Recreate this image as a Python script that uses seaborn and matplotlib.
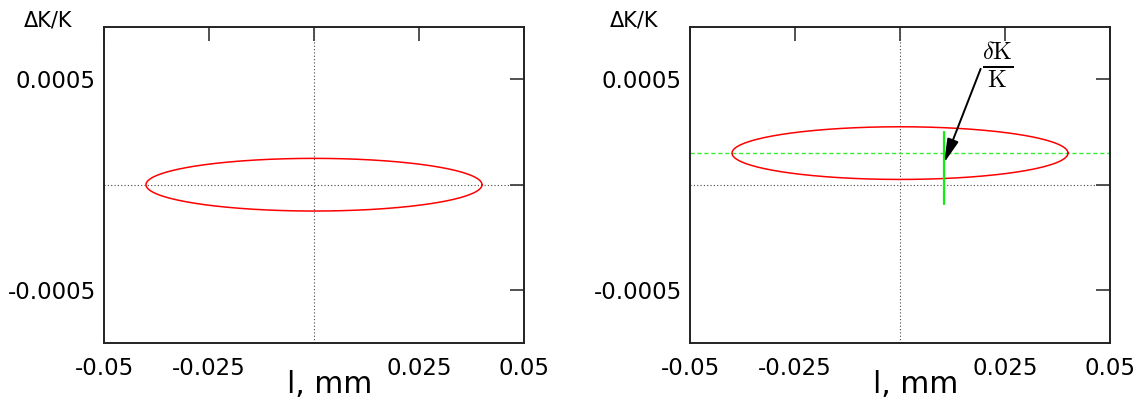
import numpy as np
import pandas as pd
import matplotlib
matplotlib.use("Agg")
import matplotlib.pyplot as plt
import seaborn as sns

# tick positions and labels (zero is left unlabelled)
x_ticks = [-0.05, -0.025, 0.0, 0.025, 0.05]
x_tick_labels = ["-0.05", "-0.025", "", "0.025", "0.05"]
y_ticks = [-0.0005, 0.0, 0.0005]
y_tick_labels = ["-0.0005", "", "0.0005"]

# ellipses: centre l, centre dK/K, half width, half height
left_ellipse = [0.0, 0.0, 0.04, 0.000125]
right_ellipse = [0.0, 0.00015, 0.04, 0.000125]

# extras on the right panel
mean_level = 0.00015
spread_l = [0.0105, 0.0105]
spread_dk = [-0.00009, 0.00025]
arrow_tail = [0.0192, 0.00055]
arrow_head = [0.0105, 0.000104]
label_xy = [0.0233, 0.00057]


def ellipse_frame(params):
    x0, y0, a, b = params
    t = np.linspace(0, 2 * np.pi, 500)
    return pd.DataFrame({"l": x0 + a * np.cos(t), "dk": y0 + b * np.sin(t)})


def style_axes(ax):
    ax.set_xlim(-0.05, 0.05)
    ax.set_ylim(-0.00075, 0.00075)
    ax.set_xticks(x_ticks)
    ax.set_xticklabels(x_tick_labels)
    ax.set_yticks(y_ticks)
    ax.set_yticklabels(y_tick_labels)
    ax.tick_params(direction="in", length=10, width=1.1, top=True, right=True,
                   labelsize=16.5, color="#222222", labelcolor="black", pad=6)
    ax.tick_params(axis="x", pad=10)
    for s in ax.spines.values():
        s.set_linewidth(1.4)
        s.set_color("#222222")
    ax.axhline(0, color="#444444", lw=0.8, ls=(0, (1, 2)), zorder=1)
    ax.axvline(0, color="#444444", lw=0.8, ls=(0, (1, 2)), zorder=1)
    ax.set_xlabel("")
    ax.set_ylabel("")


sns.set_theme(style="white")
plt.rcParams["font.family"] = ["DejaVu Sans"]
plt.rcParams["mathtext.fontset"] = "cm"

fig = plt.figure(figsize=(11.42, 4.03), dpi=100)
ax1 = fig.add_axes([104 / 1142, 60.3 / 403, 420 / 1142, 316 / 403])
ax2 = fig.add_axes([690 / 1142, 60.3 / 403, 420 / 1142, 316 / 403])

for ax, ell in [(ax1, left_ellipse), (ax2, right_ellipse)]:
    sns.lineplot(data=ellipse_frame(ell), x="l", y="dk", sort=False,
                 estimator=None, color="red", lw=1.1, ax=ax, zorder=3)
    style_axes(ax)

ax2.axhline(mean_level, color="#33ee33", lw=1.0, ls=(0, (3, 2)), zorder=2)
sns.lineplot(x=spread_l, y=spread_dk, estimator=None, sort=False,
             color="#11ee11", lw=1.6, ax=ax2, zorder=4)
ax2.annotate("", xy=arrow_head, xytext=arrow_tail,
             arrowprops=dict(arrowstyle="-|>,head_length=0.9,head_width=0.22",
                             color="black", lw=1.4, mutation_scale=16,
                             shrinkA=0, shrinkB=0))
ax2.text(label_xy[0], label_xy[1], r"$\frac{\delta\mathrm{K}}{\mathrm{K}}$",
         fontsize=25, ha="center", va="center", color="black")

for x0 in [48, 634]:
    fig.text(x0 / 1142, 1 - 26.7 / 403, "ΔK/K", fontsize=15, ha="center",
             va="baseline", color="black")
for x0 in [330, 916]:
    fig.text(x0 / 1142, 1 - 393 / 403, "l, mm", fontsize=21.5, ha="center",
             va="baseline", color="black")

fig.savefig("out.png", dpi=100)
